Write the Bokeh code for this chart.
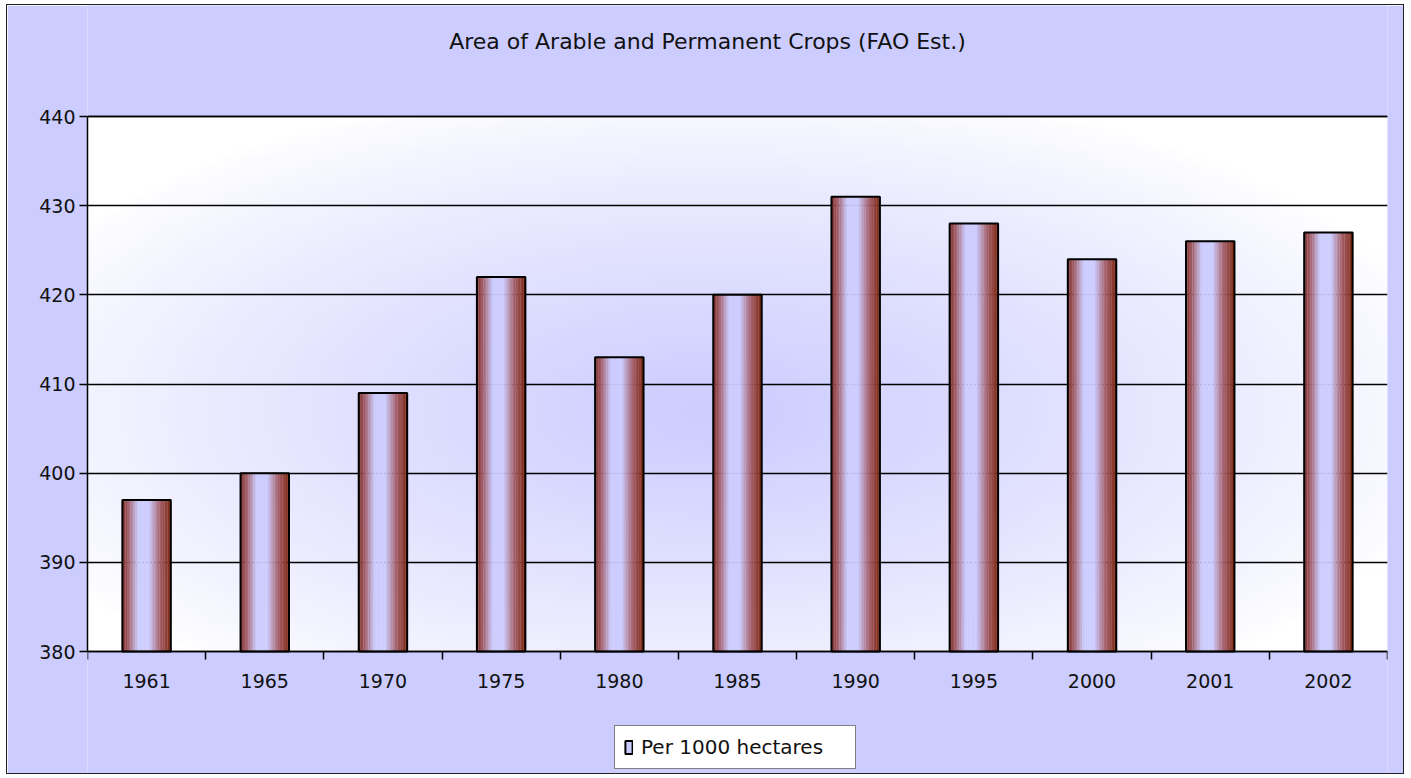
import numpy as np
from bokeh.plotting import figure
from bokeh.models import (Range1d, FixedTicker, Legend, LegendItem, ColumnDataSource, Label, Span)
from bokeh.embed import file_html
from bokeh.resources import INLINE

# ---- data ----
years = ["1961", "1965", "1970", "1975", "1980", "1985", "1990", "1995", "2000", "2001", "2002"]
area = [397, 400, 409, 422, 413, 420, 431, 428, 424, 426, 427]
series_name = "Per 1000 hectares"
title_text = "Area of Arable and Permanent Crops (FAO Est.)"
y_ticks = [380, 390, 400, 410, 420, 430, 440]

FONT = "DejaVu Sans"
LAV = (204, 204, 255)
BG = "#CCCCFF"
TXT = "#111111"

# layout (pixels): plot area 1300 x 535, 111 px above it, 122 px below it
AREA_H, TOP_PX, BOT_PX = 535, 111, 122
ppu = AREA_H / (y_ticks[-1] - y_ticks[0])
y_lo = y_ticks[0] - BOT_PX / ppu
y_hi = y_ticks[-1] + TOP_PX / ppu

n = len(years)
xpos = [i + 0.5 for i in range(n)]
src = ColumnDataSource(dict(year=years, area=area, x=xpos))

p = figure(width=1396, height=768, frame_width=1300, frame_height=TOP_PX + AREA_H + BOT_PX,
           x_range=Range1d(0, n), y_range=Range1d(y_lo, y_hi),
           output_backend="svg", toolbar_location=None,
           min_border_left=80, min_border_right=16, min_border_top=0, min_border_bottom=0,
           background_fill_color=BG, border_fill_color=BG,
           outline_line_color=None)
p.styles = {"border": "1px solid #222", "margin-left": "6px", "margin-top": "4px"}

# title
p.add_layout(Label(x=620, y=TOP_PX + AREA_H + BOT_PX - 36, x_units="screen", y_units="screen",
                   text=title_text, text_align="center", text_baseline="middle",
                   text_font=FONT, text_font_size="22px", text_color=TXT))

# background gradient in plot area
H, W = 80, 160
yy, xx = np.mgrid[0:H, 0:W]
fx = (xx + 0.5) / W
fy = (yy + 0.5) / H
d = np.sqrt(((fx - 0.48) / 0.58) ** 2 + ((fy - 0.45) / 0.62) ** 2)
t = np.clip(1 - d, 0, 1) ** 0.85
r = (255 * (1 - t) + LAV[0] * t).astype(np.uint32)
g = (255 * (1 - t) + LAV[1] * t).astype(np.uint32)
b = np.full_like(r, 255)
img = (np.uint32(255) << 24) | (b << 16) | (g << 8) | r
img = img.astype(np.uint32)
p.image_rgba(image=[img], x=0, y=y_ticks[0], dw=n, dh=y_ticks[-1] - y_ticks[0], level="image")

# bars with horizontal gradient via strips
stops = [(0.0, (128, 48, 40)), (0.12, (160, 90, 100)), (0.33, (204, 204, 255)),
         (0.55, (204, 204, 255)), (0.78, (165, 95, 105)), (0.92, (140, 60, 50)), (1.0, (125, 35, 10))]


def color_at(tt):
    for (a, ca), (bb, cb) in zip(stops[:-1], stops[1:]):
        if a <= tt <= bb:
            f = (tt - a) / (bb - a) if bb > a else 0
            c = [int(round(ca[k] + (cb[k] - ca[k]) * f)) for k in range(3)]
            return "#%02x%02x%02x" % tuple(c)
    return "#%02x%02x%02x" % stops[-1][1]


w = 0.41
N = 30
mid = None
for i in range(N):
    tt = (i + 0.5) / N
    off = -w / 2 + tt * w
    s = ColumnDataSource(dict(x=[v + off for v in xpos], area=area))
    rr = p.vbar(x="x", top="area", bottom=y_ticks[0],
                width=w / N * 1.15, source=s, fill_color=color_at(tt), line_color=None)
    if i == N // 2 - 2:
        mid = rr
outline = p.vbar(x="x", top="area", bottom=y_ticks[0], width=w, source=src,
                 fill_color=None, line_color="black", line_width=2)

# y axis & grid
ya = p.yaxis[0]
ya.ticker = FixedTicker(ticks=y_ticks)
ya.bounds = (y_ticks[0], y_ticks[-1])
ya.major_label_text_font = FONT
ya.major_label_text_font_size = "19px"
ya.major_label_text_color = TXT
ya.axis_line_color = "black"
ya.axis_line_width = 1.5
ya.major_tick_in = 0
ya.major_tick_out = 8
ya.major_tick_line_width = 1.5
ya.minor_tick_line_color = None
ya.major_label_standoff = 4
p.ygrid.ticker = FixedTicker(ticks=y_ticks)
p.ygrid.grid_line_color = "black"
p.ygrid.grid_line_width = 1.5
p.xgrid.visible = False
p.add_layout(Span(location=y_ticks[-1], dimension="width", line_color="black", line_width=1.5))

# x axis drawn at the bottom of the plot area
xa = p.xaxis[0]
xa.fixed_location = y_ticks[0]
xa.ticker = FixedTicker(ticks=xpos, minor_ticks=list(range(n + 1)))
xa.major_label_overrides = {xv: yr for xv, yr in zip(xpos, years)}
xa.major_tick_line_color = None
xa.major_tick_in = 0
xa.major_tick_out = 8
xa.minor_tick_in = 0
xa.minor_tick_out = 8
xa.minor_tick_line_color = "black"
xa.minor_tick_line_width = 1.5
xa.axis_line_color = "black"
xa.axis_line_width = 1.5
xa.major_label_text_font = FONT
xa.major_label_text_font_size = "19px"
xa.major_label_text_color = TXT
xa.major_label_standoff = 14

legend = Legend(items=[LegendItem(label=series_name, renderers=[mid, outline])],
                location=(527, 4), orientation="horizontal",
                border_line_color="black", border_line_width=1.5,
                background_fill_color="white", background_fill_alpha=1,
                label_text_font=FONT, label_text_font_size="20px", label_text_color=TXT,
                glyph_width=9, glyph_height=16, padding=9, spacing=0, margin=0,
                label_standoff=8, label_width=205)
p.add_layout(legend, "center")

open("out.html", "w").write(file_html(p, INLINE))
